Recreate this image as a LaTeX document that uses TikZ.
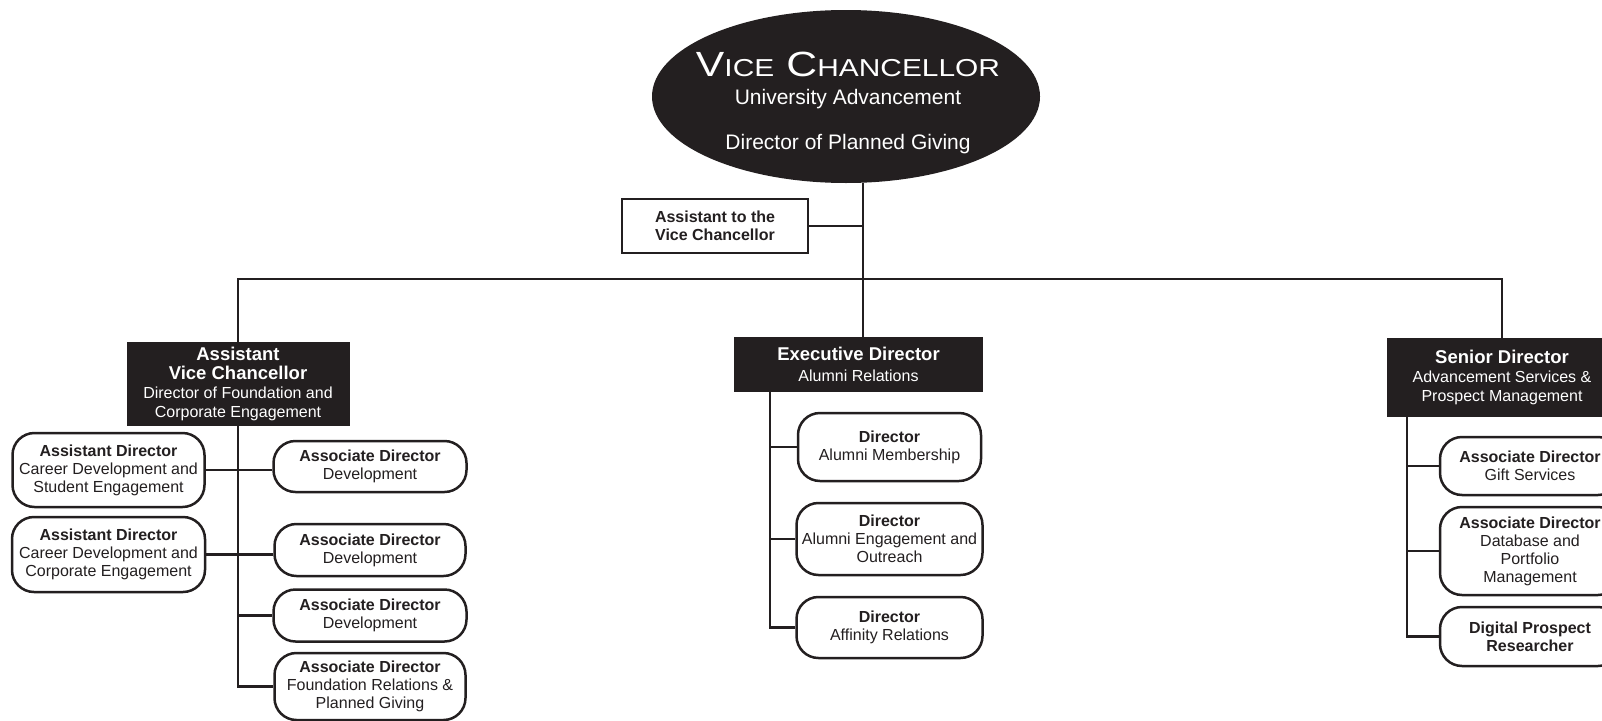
\documentclass[tikz,border=0pt]{standalone}
\usepackage{fontspec}
\setmainfont{Liberation Sans}
\usepackage{graphicx}
\usepackage{tikz}
\usetikzlibrary{positioning,shapes.geometric}
\definecolor{ink}{HTML}{231F20}
\newcommand{\chief}[1]{{\fontsize{18.5}{19}\selectfont\bfseries #1}}
\newcommand{\capsc}[2]{{\fontsize{35}{40}\selectfont #1}{\fontsize{24.5}{40}\selectfont #2}}
\tikzset{
  every node/.style={
    align=center,
    inner sep=0pt,
    text=ink,
    font=\fontsize{16}{18}\selectfont
  },
  head/.style={fill=ink, text=white, font=\fontsize{16}{19}\selectfont},
  kid/.style={draw=ink, line width=2.5pt, rounded corners=22pt, fill=white, minimum height=#1},
  kid/.default=52pt,
  link/.style={draw=ink, line width=2.5pt}
}

\begin{document}
\begin{tikzpicture}[x=1pt,y=-1pt]
      \useasboundingbox (0,0) rectangle (1602,720);
      \node [head, ellipse, minimum width=388pt, minimum height=173pt] (VC) at (846,96.5) {};
      \node [text=white, font=\fontsize{21}{28.5}\selectfont] (VCTitle) at (848,103) {\scalebox{1.22}[1]{\capsc{V}{ICE}\hspace{10pt}\capsc{C}{HANCELLOR}}\\University Advancement\\[16.5pt]Director of Planned Giving};
      \node [on grid, below left=129.5pt and 131pt of VC, draw=ink, line width=1.5pt, minimum width=186pt, minimum height=54pt, font=\fontsize{16}{18}\selectfont\bfseries] (Assistant) {Assistant to the\\Vice Chancellor};
      \node [head, minimum width=223pt, minimum height=84pt] (AVC) at (238,384) {\chief{Assistant}\\\chief{Vice Chancellor}\\Director of Foundation and\\Corporate Engagement};
      \node [head, minimum width=249pt, minimum height=55pt] (ExecDir) at (858.5,364.5) {\chief{Executive Director}\\[2pt]Alumni Relations};
      \node [head, minimum width=230pt, minimum height=79pt] (SeniorDir) at (1502,377.5) {\chief{Senior Director}\\Advancement Services \&\\Prospect Management};
      \node [kid=74pt, minimum width=192pt, on grid, below left=86pt and 129.5pt of AVC] (CareerStudent) {\textbf{Assistant Director}\\Career Development and\\Student Engagement};
      \node [kid=75pt, minimum width=193pt, on grid, below=84.5pt of CareerStudent] (CareerCorporate) {\textbf{Assistant Director}\\Career Development and\\Corporate Engagement};
      \node [kid=51pt, minimum width=193pt, on grid, below right=82.5pt and 132pt of AVC] (DevOne) {\textbf{Associate Director}\\Development};
      \node [kid=52pt, minimum width=191pt, on grid, below=83.5pt of DevOne] (DevTwo) {\textbf{Associate Director}\\Development};
      \node [kid=52pt, minimum width=193pt, on grid, below=65.5pt of DevTwo] (DevThree) {\textbf{Associate Director}\\Development};
      \node [kid=67pt, minimum width=191pt, on grid, below=71pt of DevThree] (FoundRel) {\textbf{Associate Director}\\Foundation Relations \&\\Planned Giving};
      \node [kid=68pt, minimum width=183pt, on grid, below right=82.5pt and 31pt of ExecDir] (Membership) {\textbf{Director}\\Alumni Membership};
      \node [kid=72pt, minimum width=186pt, on grid, below=92pt of Membership] (Outreach) {\textbf{Director}\\Alumni Engagement and\\Outreach};
      \node [kid=61pt, minimum width=186pt, on grid, below=88.5pt of Outreach] (Affinity) {\textbf{Director}\\Affinity Relations};
      \node [kid=58pt, minimum width=180pt, on grid, below right=88.5pt and 28pt of SeniorDir] (GiftServices) {\textbf{Associate Director}\\Gift Services};
      \node [kid=88pt, minimum width=180pt, on grid, below=85pt of GiftServices] (Database) {\textbf{Associate Director}\\Database and\\Portfolio\\Management};
      \node [kid=59pt, minimum width=180pt, on grid, below=85.5pt of Database] (Researcher) {\textbf{Digital Prospect}\\\textbf{Researcher}};
      \coordinate (Trunk) at ([xshift=17pt]VC.south);
      \coordinate [below=96pt of Trunk] (Bus);
      \coordinate (ExecTrunk) at ([xshift=36pt]ExecDir.south west);
      \coordinate (SeniorTrunk) at ([xshift=20pt]SeniorDir.south west);
      \draw [link] (Trunk) -- (Trunk |- ExecDir.north);
      \draw [link] (Assistant.east) -- (Assistant.east -| Trunk);
      \draw [link] (AVC.north) |- (Bus) -| (SeniorDir.north);
      \draw [link] (AVC.south) |- (FoundRel.west);
      \draw [link] (CareerStudent.east) -- (CareerStudent.east -| DevOne.west);
      \draw [link] (CareerCorporate.east) -- (CareerCorporate.east -| DevTwo.west);
      \draw [link] (AVC.south |- DevThree.west) -- (DevThree.west);
      \draw [link] (ExecTrunk) |- (Affinity.west);
      \draw [link] (ExecTrunk |- Membership.west) -- (Membership.west);
      \draw [link] (ExecTrunk |- Outreach.west) -- (Outreach.west);
      \draw [link] (SeniorTrunk) |- (Researcher.west);
      \draw [link] (SeniorTrunk |- GiftServices.west) -- (GiftServices.west);
      \draw [link] (SeniorTrunk |- Database.west) -- (Database.west);
    \end{tikzpicture}
\end{document}
